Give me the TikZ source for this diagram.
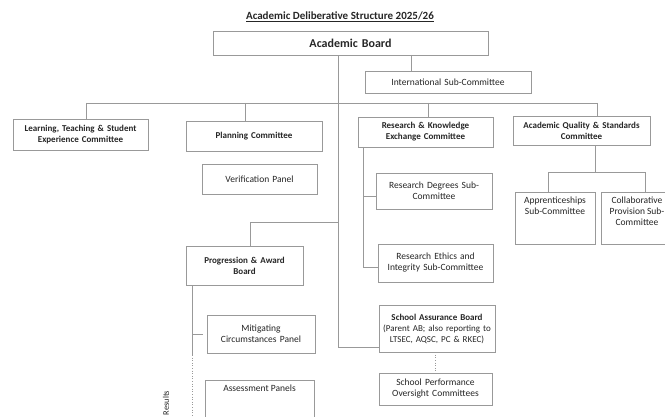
\documentclass[tikz,border=0pt]{standalone}
\usepackage{fontspec}
\setmainfont{Carlito}
\usetikzlibrary{positioning, shadows}
\tikzset{
    box/.style 2 args = {draw=gray!80, fill=white, text=black!85, align=center, inner xsep=2pt, inner ysep=1pt,
        text width=#1, minimum height=#2, font=\fontsize{9.5}{11}\selectfont,
        drop shadow={shadow xshift=0.8pt, shadow yshift=-0.8pt, fill=gray!70}},
    boldbox/.style = {font=\fontsize{9}{11}\selectfont\bfseries},
    inlabel/.style = {inner sep=0pt, align=center, text=black!85, font=\fontsize{9.5}{11}\selectfont},
    link/.style = {draw=gray!80, line width=0.6pt}
}

\begin{document}
\begin{tikzpicture}[x=1pt, y=-1pt]
    \path[use as bounding box, clip] (0,0) rectangle (665,417);
    \fill[white] (0,0) rectangle (665,417);

    \node[font=\fontsize{11}{13}\selectfont\bfseries, text=black!85] (title) at (340,17) {\underline{Academic Deliberative Structure 2025/26}};

    % top level
    \node[box={271}{24}, font=\fontsize{12}{14}\selectfont\bfseries] (board) at (350.5,43) {Academic Board};
    \node[box={162}{22}] (intl) at (448,82) {International Sub-Committee};

    % committees
    \node[box={131}{31}, boldbox] (ltsec) at (80.5,134.5) {Learning, Teaching \& Student\\Experience Committee};
    \node[box={132}{30}, boldbox] (plan) at (254,136) {Planning Committee};
    \node[box={131}{30}, boldbox] (rkec) at (425.5,132) {Research \& Knowledge\\Exchange Committee};
    \node[box={133}{29}, boldbox] (aqsc) at (581.5,130.5) {Academic Quality \& Standards\\Committee};

    % sub-committees and panels
    \node[box={111}{30}] (verif) at (259.5,179) {Verification Panel};
    \node[box={112}{36}] (rdsc) at (434,191) {Research Degrees Sub-\\Committee};
    \node[box={111}{38}] (resc) at (435.5,263) {Research Ethics and\\Integrity Sub-Committee};
    \node[box={76}{52}] (appr) at (555,218) {};
    \node[inlabel, below=5pt of appr.north] (apprtext) {Apprenticeships\\Sub-Committee};
    \node[box={68}{52}] (colp) at (637,218) {};
    \node[inlabel, below=5pt of colp.north] (colptext) {Collaborative\\Provision Sub-\\Committee};

    \node[box={113}{39}, boldbox] (pab) at (244.5,265.5) {Progression \& Award\\Board};
    \node[box={104}{38}] (mcp) at (261,334) {Mitigating\\Circumstances Panel};
    \node[box={105}{60}, anchor=north] (assess) at (259.5,380) {};
    \node[inlabel, below=5pt of assess.north] (assesstext) {Assessment Panels};
    \node[rotate=90, inner sep=0pt, text=black!85, font=\fontsize{8.5}{10}\selectfont] (results) at (166,403) {Results};

    \node[box={114}{47}, inner xsep=1pt, font=\fontsize{9}{11}\selectfont] (sab) at (437,328.5) {\textbf{School Assurance Board}\\(Parent AB; also reporting to\\LTSEC, AQSC, PC \& RKEC)};
    \node[box={109}{32}] (spoc) at (435.5,389) {School Performance\\Oversight Committees};

    % connectors
    \coordinate (sabjoin) at (338,347);
    \coordinate (intljoin) at (411,55);
    \coordinate (pabjoin) at (250,222);
    \coordinate (rkspine) at (363,147);
    \coordinate (pableg) at (192,355);
    \coordinate (pabend) at (192,420);
    \coordinate (aqL) at (548,172);
    \coordinate (aqR) at (645,172);
    \coordinate (aqfork) at (595,172);

    \draw[link] (board.south -| sabjoin) -- (sabjoin) -- (sab.west |- sabjoin);
    \draw[link] (intljoin) -- (intljoin |- intl.north);
    \draw[link] (86,103) -- (597,103);
    \foreach \n/\x in {ltsec/86, plan/245, rkec/428, aqsc/597} {
        \coordinate (drop\n) at (\x,103);
        \draw[link] (drop\n) -- (drop\n |- \n.north);
    }
    \draw[link] (rkspine) |- ([yshift=-4pt]resc.west);
    \draw[link] (rkspine |- rdsc.west) ++(0,5) -- ([yshift=-5pt]rdsc.west);
    \draw[link] (aqsc.south -| aqfork) -- (aqfork);
    \draw[link] (aqL |- appr.north) -- (aqL) -- (aqR) -- (aqR |- colp.north);
    \draw[link] (sabjoin |- pabjoin) -- (pabjoin) -- (pabjoin |- pab.north);
    \draw[link] (pab.south -| pableg) -- (pableg);
    \draw[link, dotted] (pableg) -- (pabend);
    \draw[link] (mcp.west -| pableg) -- ([xshift=-4pt]mcp.west);
    \draw[link, dotted] (sab.south -| spoc.north) -- (spoc.north);
\end{tikzpicture}
\end{document}
